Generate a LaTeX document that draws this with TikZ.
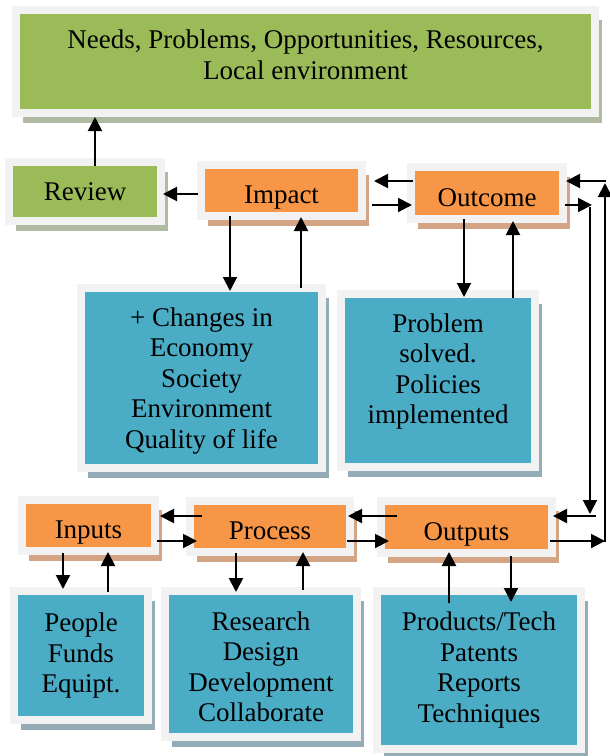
\documentclass[tikz,border=0pt]{standalone}
\usepackage{fontspec}
\setmainfont{Liberation Serif}
\usepackage{tikz}
\usetikzlibrary{arrows.meta, shadows, calc}
\definecolor{leafgreen}{RGB}{155, 187, 89}
\definecolor{leafshade}{RGB}{176, 186, 160}
\definecolor{tangerine}{RGB}{247, 150, 70}
\definecolor{tanshade}{RGB}{212, 165, 133}
\definecolor{lagoon}{RGB}{75, 172, 198}
\definecolor{lagoonshade}{RGB}{147, 172, 182}
\definecolor{framegray}{RGB}{242, 242, 242}
\newcommand{\boxfont}{\fontsize{27}{30.5}\selectfont}

\begin{document}
\begin{tikzpicture}[
        x = 1pt, y = -1pt,
        panel/.style = {rectangle, draw=framegray, line width=8pt, inner sep=0pt, align=center, font=\boxfont},
        dims/.style 2 args = {minimum width=#1pt, minimum height=#2pt},
        greenbox/.style = {panel, fill=leafgreen, drop shadow={shadow xshift=7pt, shadow yshift=-10pt, fill=leafshade, opacity=1}},
        stagebox/.style = {panel, fill=tangerine, text height=26pt, text depth=0pt, drop shadow={shadow xshift=7pt, shadow yshift=-10pt, fill=tanshade, opacity=1}},
        listbox/.style = {panel, fill=lagoon, drop shadow={shadow xshift=7pt, shadow yshift=-10pt, fill=lagoonshade, opacity=1}},
        link/.style = {line width=2pt, -{Triangle[length=14pt, width=14pt]}, black}
    ]
        \useasboundingbox (0,0) rectangle (610,756);

        % Nodes
        \node [greenbox, dims={579}{103}] (needs) at (305.5,61.5) {Needs, Problems, Opportunities, Resources,\\Local environment\rule[-14pt]{0pt}{14pt}};
        \node [greenbox, dims={152}{59}] (review) at (85,191.5) {Review};
        \node [stagebox, dims={161}{51}] (impact) at (281.5,190.5) {Impact};
        \node [stagebox, dims={152}{52}] (outcome) at (487,193) {Outcome};
        \node [listbox, dims={241}{180}] (changes) at (201.5,378) {\rule{0pt}{24pt}+ Changes in\\Economy\\Society\\Environment\\Quality of life};
        \node [listbox, dims={194}{173}] (solved) at (438,380.5) {Problem\\solved.\\Policies\\implemented\rule[-24pt]{0pt}{24pt}};
        \node [stagebox, dims={133}{51}] (inputs) at (88.5,525.5) {Inputs};
        \node [stagebox, dims={160}{51}] (process) at (270,526.5) {Process};
        \node [stagebox, dims={171}{52}] (outputs) at (466.5,527) {Outputs};
        \node [listbox, dims={134}{129}] (resources) at (81,655.5) {People\\Funds\\Equipt.};
        \node [listbox, dims={192}{146}] (activities) at (261,664) {\rule{0pt}{24pt}Research\\Design\\Development\\Collaborate};
        \node [listbox, dims={204}{158}] (products) at (479,670) {Products/Tech\\Patents\\Reports\\Techniques};

        % Connections, upper row
        \draw [link] ($(review.north)+(10,8)$) -- ($(needs.south)+(-210.5,0)$);
        \draw [link] ($(impact.west)+(1,3.5)$) -- ($(review.east)+(-2,2.5)$);
        \draw [link] ($(outcome.west)+(6,-12)$) -- ($(impact.east)+(8,-9.5)$);
        \draw [link] ($(impact.east)+(6,14.5)$) -- ($(outcome.west)+(5,12)$);
        \draw [link] ($(impact.south)+(-51.5,-4)$) -- ($(changes.north)+(28.5,7)$);
        \draw [link] ($(changes.north)+(99.5,4)$) -- ($(impact.south)+(19.5,-3)$);
        \draw [link] ($(outcome.south)+(-23,-4)$) -- ($(solved.north)+(26,7)$);
        \draw [link] ($(solved.north)+(75,8)$) -- ($(outcome.south)+(26,-2)$);

        % Connections, lower row
        \draw [link] ($(inputs.south)+(-25.5,-2)$) -- ($(resources.north)+(-18,2)$);
        \draw [link] ($(resources.north)+(27,5)$) -- ($(inputs.south)+(19.5,-3)$);
        \draw [link] ($(process.west)+(16,-10.5)$) -- ($(inputs.east)+(1,-9.5)$);
        \draw [link] ($(inputs.east)+(-2,15.5)$) -- ($(process.west)+(11,14.5)$);
        \draw [link] ($(outputs.west)+(20,-11)$) -- ($(process.east)+(-6,-10.5)$);
        \draw [link] ($(process.east)+(-7,14.5)$) -- ($(outputs.west)+(12,14)$);
        \draw [link] ($(process.south)+(-34,-3)$) -- ($(activities.north)+(-25,5)$);
        \draw [link] ($(activities.north)+(42,3)$) -- ($(process.south)+(33,-4)$);
        \draw [link] ($(products.north)+(-30,16)$) -- ($(outputs.south)+(-17.5,-5)$);
        \draw [link] ($(outputs.south)+(44.5,-1)$) -- ($(products.north)+(32,15)$);

        % Feedback loop on the right
        \draw [link] ($(outcome.east)+(-2,12)$) -- ($(outcome.east)+(25,12)$);
        \draw [link] ($(outcome.east)+(23,14)$) -- ($(outputs.east)+(34,-13)$);
        \draw [link] ($(outputs.east)+(40,-11)$) -- ($(outputs.east)+(-3,-11)$);
        \draw [link] ($(outputs.east)+(-6,14)$) -- ($(outputs.east)+(49,14)$);
        \draw [link] ($(outputs.east)+(49,15)$) -- ($(outcome.east)+(38,-10)$);
        \draw [link] ($(outcome.east)+(39,-12)$) -- ($(outcome.east)+(-1,-12)$);
    \end{tikzpicture}
\end{document}
